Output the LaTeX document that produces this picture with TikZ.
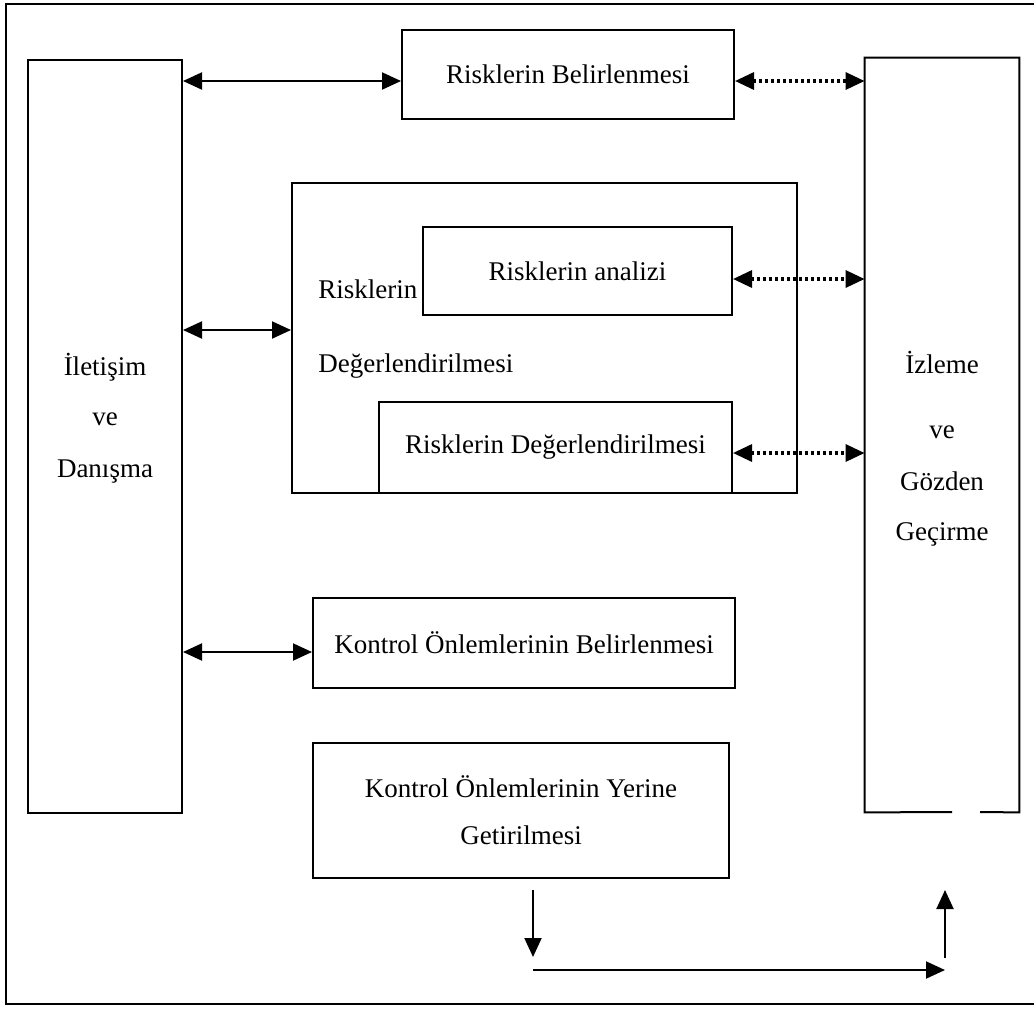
\documentclass[tikz,border=0pt]{standalone}
\usepackage{fontspec}
\setmainfont{Liberation Serif}
\usetikzlibrary{arrows.meta}
\begin{document}
\begin{tikzpicture}[x=0.5pt,y=-0.5pt,
  box/.style={draw,line width=1pt,inner sep=0pt,rectangle},
  lbl/.style={font=\fontsize{13.5}{16}\selectfont,inner sep=0pt},
  solidarr/.style={line width=1pt,{Triangle[length=9.5pt,width=8.5pt]}-{Triangle[length=9.5pt,width=8.5pt]}},
  dotarr/.style={line width=1.6pt,dash pattern=on 1.4pt off 1.6pt,{Triangle[length=9.5pt,width=8.5pt]}-{Triangle[length=9.5pt,width=8.5pt]}},
  onearr/.style={line width=1pt,-{Triangle[length=9.5pt,width=8.5pt]}},
]
\useasboundingbox (0,0) rectangle (1034,1008);
% outer frame
\coordinate (fTR) at (1034,4);
\coordinate (fTL) at (6,4);
\coordinate (fBL) at (6,1004);
\coordinate (fBR) at (1034,1004);
\draw[line width=1pt] (fTR) -- (fTL) -- (fBL) -- (fBR);

% boxes
\node[box,minimum width=77pt,minimum height=376.5pt] (ilet) at (105,436.5) {};
\node[inner sep=0pt,minimum width=77pt,minimum height=377pt] (izle) at (942,435) {};
\coordinate (gapL) at (952,812);
\coordinate (gapR) at (980,812);
\draw[line width=1pt] (gapL) -- (izle.south west) -- (izle.north west) -- (izle.north east) -- (izle.south east) -- (gapR);

\node[box,lbl,minimum width=166pt,minimum height=44.5pt] (belir) at (568,74.5) {Risklerin Belirlenmesi};
\node[box,minimum width=252.5pt,minimum height=155pt] (degbig) at (544.5,338) {};
\node[box,lbl,minimum width=154.5pt,minimum height=44pt] (analiz) at (577.5,271) {Risklerin analizi};
\node[box,lbl,minimum width=176.5pt,minimum height=45.5pt] (degin) at (555.5,447.5) {Risklerin Değerlendirilmesi};
\node[box,lbl,minimum width=211pt,minimum height=45pt] (kontB) at (524,643) {Kontrol Önlemlerinin Belirlenmesi};
\node[box,minimum width=208pt,minimum height=67.5pt] (kontY) at (521,810.5) {};

% texts
\node[lbl] (ky1) at (521,787) {Kontrol Önlemlerinin Yerine};
\node[lbl] (ky2) at (521,835) {Getirilmesi};
\node[lbl,anchor=base west] (rl1) at (318,298) {Risklerin};
\node[lbl,anchor=base west] (rl2) at (318,372) {Değerlendirilmesi};
\node[lbl,anchor=base] (il1) at (105,375) {İletişim};
\node[lbl,anchor=base] (il2) at (105,425) {ve};
\node[lbl,anchor=base] (il3) at (105,477) {Danışma};
\node[lbl,anchor=base] (iz1) at (942,373) {İzleme};
\node[lbl,anchor=base] (iz2) at (942,438) {ve};
\node[lbl,anchor=base] (iz3) at (942,490) {Gözden};
\node[lbl,anchor=base] (iz4) at (942,540) {Geçirme};

% connectors
\coordinate (y1) at (0,81);
\coordinate (y2) at (0,330);
\coordinate (y3) at (0,279);
\coordinate (y4) at (0,453);
\coordinate (y5) at (0,652);
\draw[solidarr] (ilet.east |- y1) -- (belir.west |- y1);
\draw[dotarr] (belir.east |- y1) -- (izle.west |- y1);
\draw[solidarr] (ilet.east |- y2) -- (degbig.west |- y2);
\draw[dotarr] (analiz.east |- y3) -- (izle.west |- y3);
\draw[dotarr] (degin.east |- y4) -- (izle.west |- y4);
\draw[solidarr] (ilet.east |- y5) -- (kontB.west |- y5);

% bottom loop
\coordinate (d1) at (533,890);
\coordinate (d2) at (533,957);
\coordinate (h1) at (533,970);
\coordinate (h2) at (945,970);
\coordinate (u1) at (945,958);
\coordinate (u2) at (945,890);
\draw[onearr] (d1) -- (d2);
\draw[onearr] (h1) -- (h2);
\draw[onearr] (u1) -- (u2);
\end{tikzpicture}
\end{document}
